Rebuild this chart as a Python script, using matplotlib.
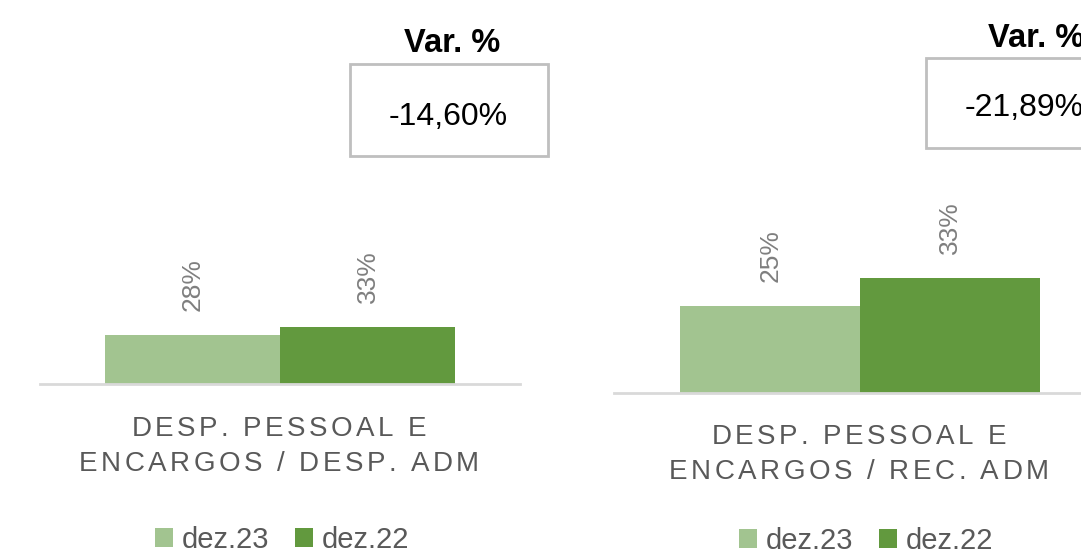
import matplotlib
matplotlib.use("Agg")
import matplotlib.pyplot as plt
from matplotlib.patches import Rectangle, Patch
from matplotlib.font_manager import FontProperties

# --- dados ---
categorias = ["DESP. PESSOAL E\nENCARGOS / DESP. ADM", "DESP. PESSOAL E\nENCARGOS / REC. ADM"]
series = ["dez.23", "dez.22"]
dez23 = [28, 25]
dez22 = [33, 33]
var_pct = [-14.60, -21.89]

cores = ["#A2C490", "#62993E"]
fam = ["Liberation Sans", "DejaVu Sans"]
plt.rcParams["font.family"] = fam

W, H = 1081, 560
fig = plt.figure(figsize=(W / 100, H / 100), dpi=100)
renderer = fig.canvas.get_renderer()


def fx(x):
    return x / W


def fy(y):
    return 1 - y / H


def largura(c, prop):
    # largura de avanço de um caractere (em pixels)
    w1 = renderer.get_text_width_height_descent("|" + c + "|", prop, ismath=False)[0]
    w0 = renderer.get_text_width_height_descent("||", prop, ismath=False)[0]
    return w1 - w0


def texto_espacado(txt, xc, bases, larg_alvo, fs, cor):
    # texto com espaçamento entre letras, caractere por caractere
    prop = FontProperties(family=fam, size=fs)
    linhas = txt.split("\n")
    w1 = [largura(c, prop) for c in linhas[0]]
    gap = (larg_alvo - sum(w1)) / (len(w1) - 1)
    for linha, yb in zip(linhas, bases):
        ws = [largura(c, prop) for c in linha]
        tot = sum(ws) + gap * (len(ws) - 1)
        x = xc - tot / 2
        for c, w in zip(linha, ws):
            if c != " ":
                fig.text(fx(x), fy(yb), c, fontsize=fs, color=cor, ha="left", va="baseline")
            x += w + gap


# layout de cada painel: (x esq, x dir, y base, px por ponto)
paineis = [(40, 520, 384, 1.74), (614, 1106, 393, 3.47)]
bases_cat = [(436, 471), (444, 479)]
caixas = [(350, 64, 198, 92), (926, 58, 198, 90)]
base_var = [(125, 52), (116, 47)]
leg_centro = [(282, 540), (866, 541)]

for i, (x0, x1, yb, esc) in enumerate(paineis):
    alt = 170
    ax = fig.add_axes([fx(x0), fy(yb), (x1 - x0) / W, alt / H])
    ax.set_xlim(-0.5, 0.5)
    ax.set_ylim(0, alt / esc)
    larg = 0.365
    vals = [dez23[i], dez22[i]]
    for j, v in enumerate(vals):
        xc = (j - 0.5) * larg
        ax.bar(xc, v, width=larg, color=cores[j], zorder=2)
        ax.annotate(f"{v}%", (xc, v), xytext=(0, 24), textcoords="offset pixels",
                    rotation=90, ha="center", va="bottom", fontsize=19, color="#7F7F7F")
    for s in ["top", "left", "right"]:
        ax.spines[s].set_visible(False)
    ax.spines["bottom"].set_color("#D9D9D9")
    ax.spines["bottom"].set_linewidth(2)
    ax.set_yticks([])
    ax.set_xticks([])
    ax.patch.set_alpha(0)

    xcen = (x0 + x1) / 2
    texto_espacado(categorias[i], xcen - 1, bases_cat[i], 295, 20, "#595959")

    # caixa Var. %
    bx, by, bw, bh = caixas[i]
    fig.patches.append(Rectangle((fx(bx), fy(by + bh)), bw / W, bh / H, transform=fig.transFigure,
                                 facecolor="white", edgecolor="#BFBFBF", linewidth=2))
    b_val, b_tit = base_var[i]
    fig.text(fx(bx + bw / 2 - 1), fy(b_val), f"{var_pct[i]:.2f}%".replace(".", ","),
             ha="center", va="baseline", fontsize=23, color="black")
    fig.text(fx(bx + bw / 2 + (3 if i == 0 else 11)), fy(b_tit), "Var. %",
             ha="center", va="baseline", fontsize=23.5, fontweight="bold", color="black")

    # legenda
    handles = [Patch(facecolor=c, edgecolor="none") for c in cores]
    lx, ly = leg_centro[i]
    fig.legend(handles, series, loc="center", bbox_to_anchor=(fx(lx), fy(ly)), ncol=2,
               frameon=False, fontsize=21, labelcolor="#595959", handlelength=0.62,
               handleheight=0.62, handletextpad=0.3, columnspacing=0.9)

fig.savefig("out.png", dpi=100)
